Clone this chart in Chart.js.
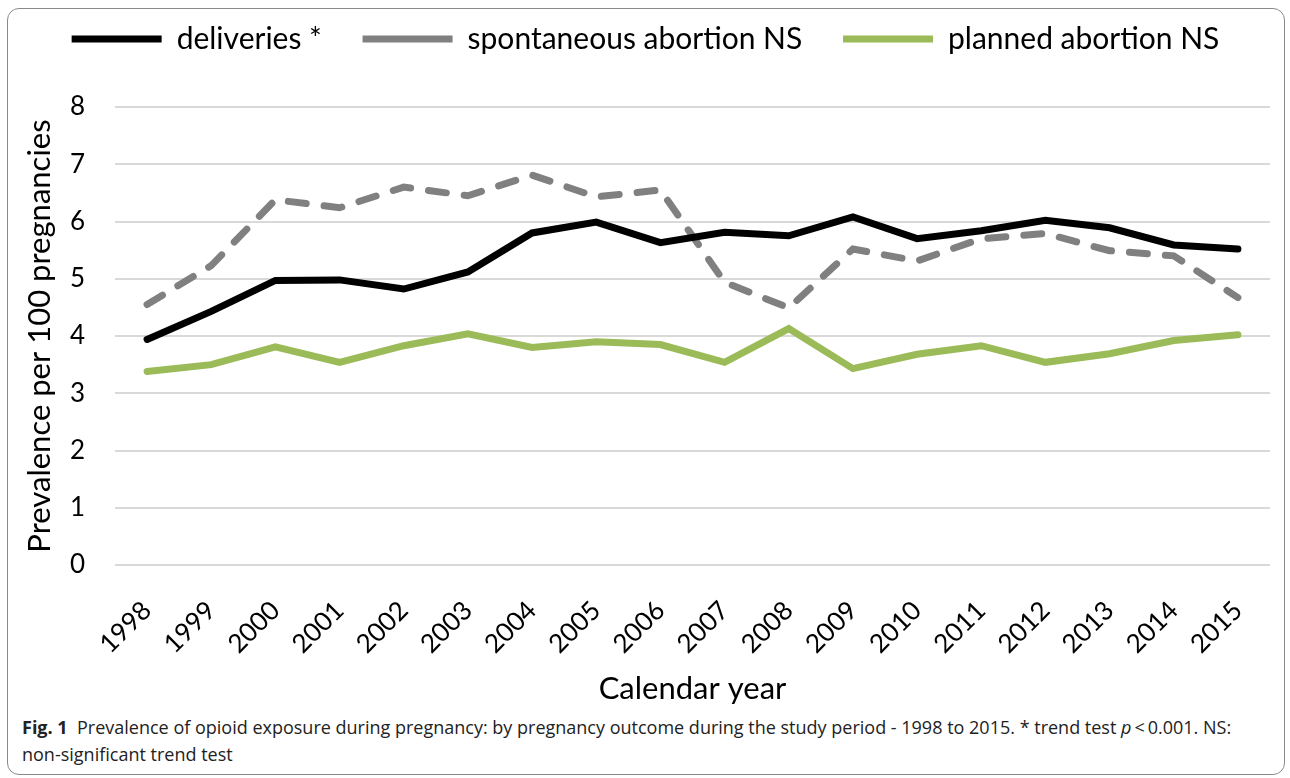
<!DOCTYPE html>
<html>
<head>
<meta charset="utf-8">
<script src="https://cdn.jsdelivr.net/npm/chart.js@4.4.1/dist/chart.umd.min.js"></script>
<style>
  html, body { margin: 0; padding: 0; background: #fff; }
  #frame {
    position: absolute; left: 7px; top: 8px; width: 1276px; height: 765px;
    border: 1px solid #8a8a8a; border-radius: 12px;
  }
  #wrap { position: absolute; left: 0; top: 0; width: 1290px; height: 712px; }
  #caption {
    position: absolute; left: 22px; top: 714px; width: 1250px;
    font-family: "Liberation Sans Narrow", "Open Sans", sans-serif;
    font-size: 18px; line-height: 27px; color: #222;
  }
</style>
</head>
<body>
<div id="frame"></div>
<div id="wrap"><canvas id="myChart"></canvas></div>
<div id="caption"><b>Fig. 1</b>&nbsp; Prevalence of opioid exposure during pregnancy: by pregnancy outcome during the study period - 1998 to 2015. * trend test <i>p</i>&thinsp;&lt;&thinsp;0.001. NS: non-significant trend test</div>
<script>
const years = ["1998", "1999", "2000", "2001", "2002", "2003", "2004", "2005", "2006",
  "2007", "2008", "2009", "2010", "2011", "2012", "2013", "2014", "2015"];
const deliveries = [3.94, 4.43, 4.97, 4.98, 4.82, 5.12, 5.80, 5.99, 5.63,
  5.81, 5.75, 6.08, 5.70, 5.84, 6.02, 5.89, 5.59, 5.52];
const spontaneous = [4.55, 5.23, 6.38, 6.24, 6.60, 6.45, 6.81, 6.43, 6.55,
  4.94, 4.49, 5.52, 5.31, 5.70, 5.79, 5.49, 5.40, 4.67];
const planned = [3.38, 3.50, 3.81, 3.54, 3.83, 4.04, 3.80, 3.90, 3.85,
  3.54, 4.13, 3.43, 3.68, 3.83, 3.54, 3.69, 3.92, 4.02];
const yTicks = [0, 1, 2, 3, 4, 5, 6, 7, 8];

const font = "Lato, 'Open Sans', sans-serif";

// extra room under the legend
const legendGap = {
  id: "legendGap",
  beforeInit(chart) {
    const fit = chart.legend.fit;
    chart.legend.fit = function () {
      fit.call(this);
      this.height += 43;
    };
  },
};

const ctx = document.getElementById("myChart");
new Chart(ctx, {
  type: "line",
  data: {
    labels: years,
    datasets: [
      {
        label: "deliveries *",
        data: deliveries,
        borderColor: "#000000",
        backgroundColor: "#000000",
        borderWidth: 7,
        borderCapStyle: "round",
        pointRadius: 0,
        tension: 0,
      },
      {
        label: "spontaneous abortion NS",
        data: spontaneous,
        borderColor: "#808080",
        backgroundColor: "#808080",
        borderWidth: 7,
        borderDash: [18, 18],
        borderCapStyle: "round",
        pointRadius: 0,
        tension: 0,
      },
      {
        label: "planned abortion NS",
        data: planned,
        borderColor: "#9bbb59",
        backgroundColor: "#9bbb59",
        borderWidth: 7,
        borderCapStyle: "round",
        pointRadius: 0,
        tension: 0,
      },
    ],
  },
  options: {
    responsive: true,
    maintainAspectRatio: false,
    animation: false,
    layout: { padding: { top: 14, right: 20, left: 21, bottom: 0 } },
    plugins: {
      tooltip: { enabled: false },
      legend: {
        position: "top",
        labels: {
          usePointStyle: true,
          pointStyle: "line",
          pointStyleWidth: 90,
          boxHeight: 30,
          padding: 10,
          color: "#000",
          font: { family: font, size: 30 },
          generateLabels: (chart) => {
            const items = Chart.defaults.plugins.legend.labels.generateLabels(chart);
            items.forEach((it, i) => {
              if (i < items.length - 1) it.text = it.text + "    ";
            });
            return items;
          },
        },
      },
    },
    scales: {
      x: {
        offset: true,
        grid: { display: false },
        border: { display: false },
        afterFit: (axis) => {
          axis.height = 147;
        },
        ticks: {
          color: "#000",
          minRotation: 45,
          maxRotation: 45,
          padding: 22,
          font: { family: font, size: 26 },
        },
        title: {
          display: true,
          text: "Calendar year",
          color: "#000",
          font: { family: font, size: 31 },
          padding: { top: 0, bottom: 4 },
        },
      },
      y: {
        min: 0,
        max: 8,
        afterBuildTicks: (axis) => {
          axis.ticks = yTicks.map((v) => ({ value: v }));
        },
        afterFit: (axis) => {
          axis.width = 94;
        },
        grid: { color: "#d9d9d9", lineWidth: 2, drawTicks: false },
        border: { display: false },
        ticks: {
          color: "#000",
          padding: 30,
          font: { family: font, size: 26 },
        },
        title: {
          display: true,
          text: "Prevalence per 100 pregnancies",
          color: "#000",
          font: { family: font, size: 31 },
          padding: { top: 0, bottom: 0 },
        },
      },
    },
  },
  plugins: [legendGap],
});
</script>
</body>
</html>
